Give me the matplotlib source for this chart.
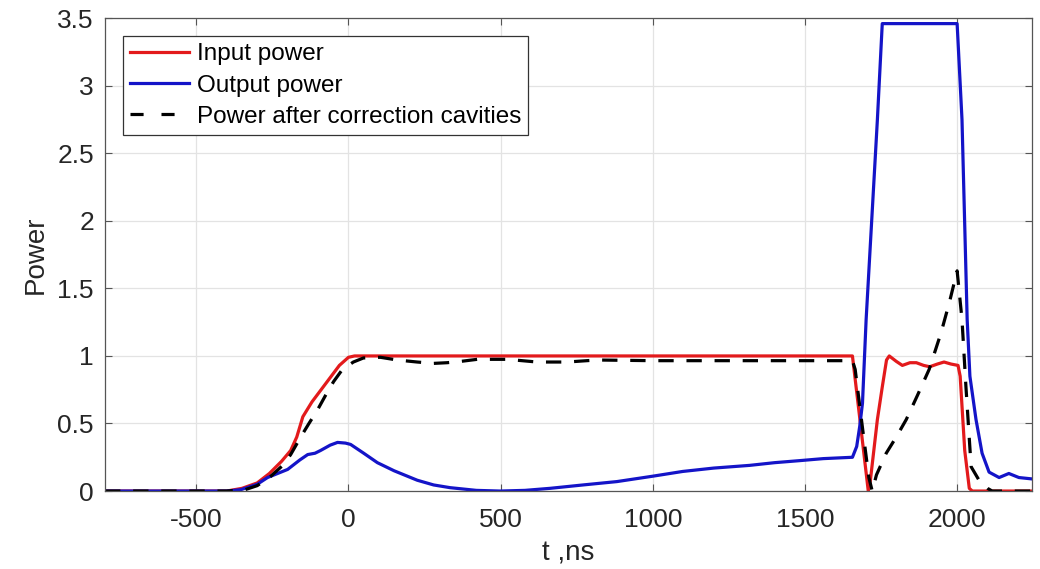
import matplotlib
matplotlib.use("Agg")
import matplotlib.pyplot as plt
import numpy as np

plt.rcParams['font.family'] = ['Liberation Sans', 'DejaVu Sans']
plt.rcParams['axes.unicode_minus'] = False

# Input power (normalised)
t_in = [-800, -400, -350, -300, -260, -220, -190, -170, -150, -120, -90, -60, -30, 0, 20,
        1656, 1679, 1708, 1715, 1738, 1754, 1768, 1777, 1800, 1820, 1845, 1866, 1890, 1910,
        1935, 1957, 1980, 2003, 2010, 2025, 2040, 2050, 2245]
p_in = [0, 0, 0.02, 0.06, 0.13, 0.22, 0.30, 0.40, 0.55, 0.66, 0.75, 0.84, 0.93, 0.99, 1.0,
        1.0, 0.56, 0.0, 0.08, 0.53, 0.77, 0.97, 1.0, 0.96, 0.93, 0.95, 0.95, 0.93, 0.92,
        0.94, 0.955, 0.94, 0.93, 0.85, 0.30, 0.02, 0.0, 0.0]

# Output power
t_out = [-800, -400, -354, -300, -266, -200, -160, -134, -110, -92, -60, -36, -10, 7, 50, 95,
         150, 226, 280, 334, 420, 498, 580, 662, 770, 882, 1000, 1098, 1200, 1318, 1400, 1482,
         1560, 1656, 1670, 1680, 1689, 1701, 1738, 1754, 2000, 2016, 2033, 2042, 2062, 2082,
         2105, 2138, 2170, 2203, 2245]
p_out = [0, 0, 0.01, 0.05, 0.10, 0.16, 0.23, 0.27, 0.28, 0.30, 0.34, 0.36, 0.355, 0.345, 0.28,
         0.21, 0.15, 0.08, 0.045, 0.025, 0.005, 0.0, 0.005, 0.02, 0.045, 0.07, 0.11, 0.145, 0.17,
         0.19, 0.21, 0.225, 0.24, 0.25, 0.33, 0.48, 0.65, 1.27, 2.75, 3.46, 3.46, 2.75, 1.27,
         0.85, 0.53, 0.28, 0.14, 0.10, 0.13, 0.10, 0.09]

# Power after the correction cavities
t_cor = [-800, -400, -340, -300, -260, -216, -190, -157, -130, -102, -75, -49, -20, 16, 49,
         105, 160, 226, 280, 324, 370, 423, 521, 620, 718, 816, 1000, 1200, 1400, 1656, 1665,
         1690, 1710, 1721, 1735, 1767, 1800, 1833, 1870, 1908, 1947, 1975, 2000, 2016, 2029,
         2046, 2072, 2100, 2115, 2245]
p_cor = [0, 0, 0.01, 0.04, 0.10, 0.19, 0.27, 0.40, 0.50, 0.60, 0.71, 0.81, 0.90, 0.955, 0.985,
         0.99, 0.97, 0.955, 0.945, 0.95, 0.96, 0.975, 0.975, 0.955, 0.955, 0.97, 0.965, 0.965,
         0.965, 0.965, 0.90, 0.45, 0.10, 0.0, 0.12, 0.28, 0.40, 0.53, 0.71, 0.90, 1.17, 1.40,
         1.63, 1.27, 0.77, 0.18, 0.08, 0.02, 0.0, 0.0]

x_ticks = [-500, 0, 500, 1000, 1500, 2000]
x_tick_labels = ['-500', '0', '500', '1000', '1500', '2000']
y_ticks = [0, 0.5, 1, 1.5, 2, 2.5, 3, 3.5]
y_tick_labels = ['0', '0.5', '1', '1.5', '2', '2.5', '3', '3.5']

fig = plt.figure(figsize=(10.4, 5.69), dpi=100)
ax = fig.add_axes([0.101, 0.137, 0.891, 0.831])

red = '#e31a1c'
blue = '#1414c8'
ax.plot(t_in, p_in, color=red, lw=2.3, label='Input power')
ax.plot(t_out, p_out, color=blue, lw=2.3, label='Output power')
ax.plot(t_cor, p_cor, color='black', lw=2.3, dashes=(4.8, 4), label='Power after correction cavities')

ax.set_xlim(-800, 2245)
ax.set_ylim(0, 3.5)
ax.set_xticks(x_ticks)
ax.set_xticklabels(x_tick_labels)
ax.set_yticks(y_ticks)
ax.set_yticklabels(y_tick_labels)
ax.grid(True, color='#e3e3e3', lw=0.9)
ax.set_axisbelow(True)

for s in ax.spines.values():
    s.set_color('#555555')
    s.set_linewidth(0.9)
ax.tick_params(direction='in', length=5, width=0.8, color='#555555', labelsize=19,
               labelcolor='#262626', top=True, right=True)
ax.tick_params(axis='y', pad=8)
ax.tick_params(axis='x', pad=12)

ax.set_xlabel('t ,ns', fontsize=20, color='#262626', labelpad=6)
ax.set_ylabel('Power', fontsize=20, color='#262626', labelpad=6)

leg = ax.legend(loc='upper left', bbox_to_anchor=(0.019, 0.962), fontsize=17.5,
                handlelength=2.45, handletextpad=0.3, labelspacing=0.38,
                borderpad=0.3, borderaxespad=0.0, fancybox=False, framealpha=1)
leg.get_frame().set_edgecolor('#333333')
leg.get_frame().set_linewidth(0.9)
# two long dashes in the legend key of the dashed curve
leg.get_lines()[2].set_dashes((4.1, 5.6))

fig.savefig('out.png', dpi=100, facecolor='white')
